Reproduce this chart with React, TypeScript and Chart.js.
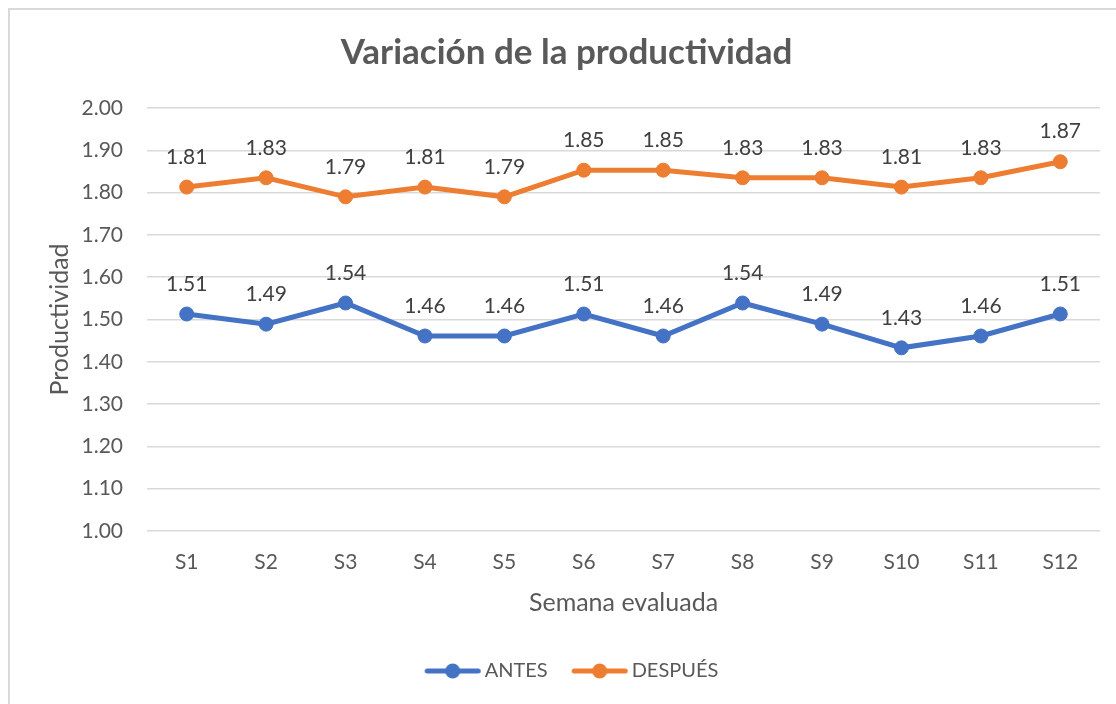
import React, { useEffect, useRef } from "react";
import { Chart, registerables } from "chart.js";

Chart.register(...registerables);

const categories = ["S1", "S2", "S3", "S4", "S5", "S6", "S7", "S8", "S9", "S10", "S11", "S12"];
const antes = [1.513, 1.489, 1.539, 1.461, 1.461, 1.513, 1.461, 1.539, 1.489, 1.433, 1.461, 1.513];
const despues = [1.813, 1.835, 1.79, 1.813, 1.79, 1.853, 1.853, 1.835, 1.835, 1.813, 1.835, 1.873];
const seriesNames = ["ANTES", "DESPUÉS"];
const seriesColors = ["#4472C4", "#ED7D31"];
const yMin = 1.0;
const yMax = 2.0;
const yStep = 0.1;
const titleText = "Variación de la productividad";
const yTitle = "Productividad";
const xTitle = "Semana evaluada";

const FONT = "Lato, 'Open Sans', sans-serif";
const TEXT = "#595959";

function legendImage(color: string): HTMLCanvasElement {
  const c = document.createElement("canvas");
  c.width = 80;
  c.height = 18;
  const ctx = c.getContext("2d")!;
  ctx.strokeStyle = color;
  ctx.lineWidth = 5;
  ctx.lineCap = "round";
  ctx.beginPath();
  ctx.moveTo(22.5, 9);
  ctx.lineTo(73.5, 9);
  ctx.stroke();
  ctx.fillStyle = color;
  ctx.beginPath();
  ctx.arc(48, 9, 7.5, 0, Math.PI * 2);
  ctx.fill();
  return c;
}

const bgPlugin = {
  id: "bgBorder",
  beforeDraw(chart: any) {
    const ctx = chart.ctx;
    ctx.save();
    ctx.fillStyle = "#ffffff";
    ctx.fillRect(0, 0, chart.width, chart.height);
    ctx.fillStyle = "#D9D9D9";
    ctx.fillRect(8, 8, chart.width - 8, 2);
    ctx.fillRect(8, 8, 2, chart.height - 8);
    ctx.restore();
  },
};

const labelPlugin = {
  id: "dataLabels",
  afterDatasetsDraw(chart: any) {
    const ctx = chart.ctx;
    ctx.save();
    ctx.font = `21px ${FONT}`;
    ctx.fillStyle = "#404040";
    ctx.textAlign = "center";
    ctx.textBaseline = "middle";
    chart.data.datasets.forEach((ds: any, i: number) => {
      const meta = chart.getDatasetMeta(i);
      meta.data.forEach((pt: any, j: number) => {
        ctx.fillText(Number(ds.data[j]).toFixed(2), pt.x, pt.y - 30);
      });
    });
    ctx.restore();
  },
};

export default function App() {
  const ref = useRef<HTMLCanvasElement>(null);

  useEffect(() => {
    if (!ref.current) return;
    const images = seriesColors.map((c) => legendImage(c));
    const chart = new Chart(ref.current, {
      type: "line",
      data: {
        labels: categories,
        datasets: [antes, despues].map((d, i) => ({
          label: seriesNames[i],
          data: d,
          borderColor: seriesColors[i],
          backgroundColor: seriesColors[i],
          borderWidth: 5,
          pointRadius: 7,
          pointBorderWidth: 1,
          pointBackgroundColor: seriesColors[i],
          pointBorderColor: seriesColors[i],
          tension: 0,
        })),
      },
      options: {
        animation: false,
        responsive: false,
        devicePixelRatio: 1,
        layout: { padding: { top: 8, left: 33, right: 16, bottom: 13 } },
        plugins: {
          title: {
            display: true,
            text: titleText,
            color: TEXT,
            font: { family: FONT, size: 35, weight: "bold" },
            padding: { top: 24, bottom: 34 },
          },
          legend: {
            position: "bottom",
            labels: {
              usePointStyle: true,
              pointStyleWidth: 60,
              boxHeight: 20,
              color: TEXT,
              font: { family: FONT, size: 20 },
              padding: 14,
              generateLabels: (chart: any) =>
                chart.data.datasets.map((ds: any, i: number) => ({
                  text: ds.label,
                  pointStyle: images[i],
                  fillStyle: seriesColors[i],
                  strokeStyle: seriesColors[i],
                  lineWidth: 0,
                  fontColor: TEXT,
                  hidden: false,
                  datasetIndex: i,
                })),
            },
          },
          tooltip: { enabled: false },
        },
        scales: {
          x: {
            offset: true,
            grid: { display: false, drawTicks: false },
            border: { display: false },
            ticks: { color: TEXT, font: { family: FONT, size: 21 }, padding: 19 },
            title: {
              display: true,
              text: xTitle,
              color: TEXT,
              font: { family: FONT, size: 25 },
              padding: { top: 0, bottom: 29 },
            },
            afterFit: (scale: any) => {
              scale.height = 116;
            },
          },
          y: {
            min: yMin,
            max: yMax,
            grid: { color: "#D9D9D9", lineWidth: 1.5, drawTicks: false },
            border: { display: false },
            ticks: {
              stepSize: yStep,
              color: TEXT,
              font: { family: FONT, size: 21 },
              padding: 24,
              callback: (v: any) => Number(v).toFixed(2),
            },
            title: {
              display: true,
              text: yTitle,
              color: TEXT,
              font: { family: FONT, size: 25 },
              padding: { top: 12, bottom: 0 },
            },
            afterFit: (scale: any) => {
              scale.width = 114;
            },
          },
        },
      },
      plugins: [bgPlugin, labelPlugin],
    });
    return () => chart.destroy();
  }, []);

  return (
    <div style={{ position: "fixed", left: 0, top: 0, width: 1116, height: 704 }}>
      <canvas ref={ref} width={1116} height={704} style={{ width: 1116, height: 704 }} />
    </div>
  );
}
